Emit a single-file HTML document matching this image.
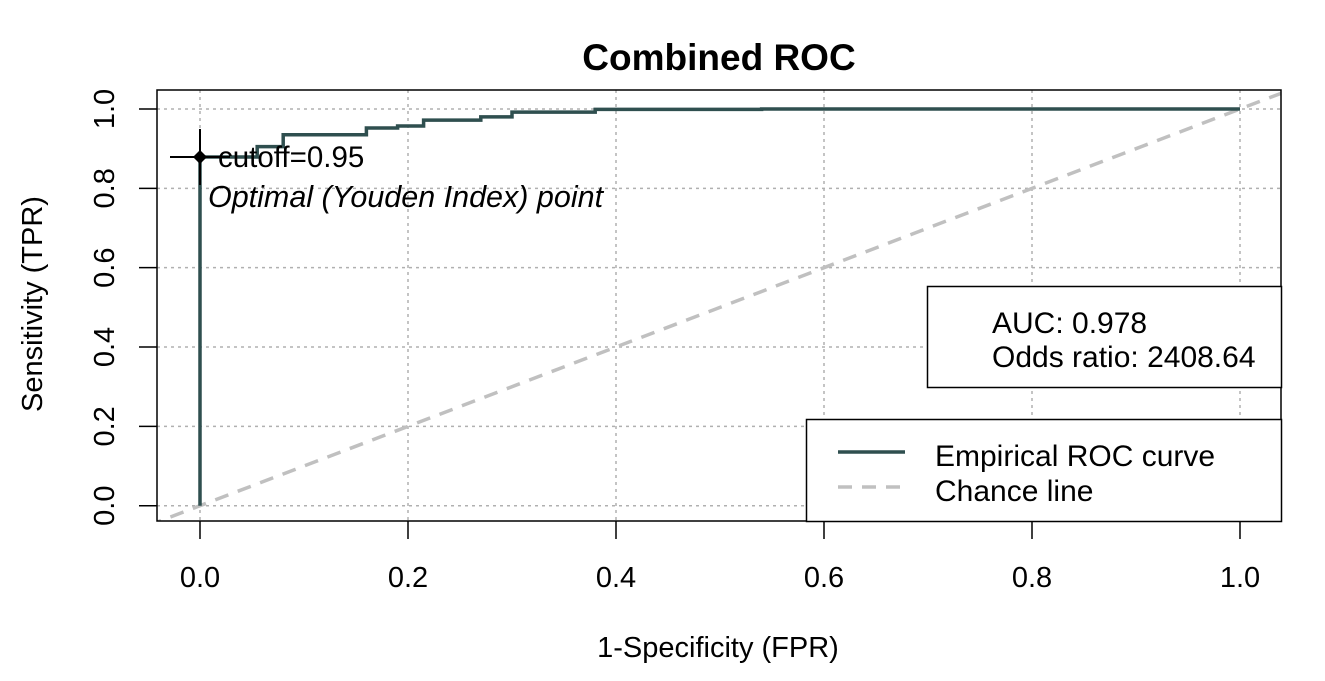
<!DOCTYPE html>
<html><head><meta charset="utf-8"><style>
html,body{margin:0;padding:0;background:#fff;}
svg{display:block;font-family:"Liberation Sans",Arial,sans-serif;}
</style></head><body>
<svg id="c" width="1325" height="681" xmlns="http://www.w3.org/2000/svg"></svg>
<script>
const xTicks=[0,0.2,0.4,0.6,0.8,1.0];
const yTicks=[0,0.2,0.4,0.6,0.8,1.0];
const tickLabels=["0.0","0.2","0.4","0.6","0.8","1.0"];
const rocFPR=[0,0,0.055,0.055,0.08,0.08,0.16,0.16,0.19,0.19,0.215,0.215,0.27,0.27,0.30,0.30,0.38,0.38,0.54,0.54,1.0];
const rocTPR=[0,0.879,0.879,0.905,0.905,0.935,0.935,0.952,0.952,0.957,0.957,0.972,0.972,0.980,0.980,0.992,0.992,0.999,0.999,1.0,1.0];
const optFPR=0, optTPR=0.879;
const NS="http://www.w3.org/2000/svg";
const svg=document.getElementById('c');
const L=157,R=1281,T=90,B=521;
function sx(v){return 200+v*1040;}
function sy(v){return 505.7-v*396.7;}
function mk(tag,attrs,parent){const e=document.createElementNS(NS,tag);for(const k in attrs)e.setAttribute(k,attrs[k]);(parent||svg).appendChild(e);return e;}
const defs=mk('defs',{});const cp=mk('clipPath',{id:'pc'},defs);mk('rect',{x:L,y:T,width:R-L,height:B-T},cp);
xTicks.forEach(v=>{const g=mk('line',{x1:sx(v),x2:sx(v),y1:T,y2:B,stroke:'#b0b0b0','stroke-width':1.5,'stroke-dasharray':'3,4'});

});
yTicks.forEach(v=>{const g=mk('line',{x1:L,x2:R,y1:sy(v),y2:sy(v),stroke:'#b0b0b0','stroke-width':1.5,'stroke-dasharray':'3,4'});

});
const ch=mk('line',{x1:sx(-0.05),y1:sy(-0.05),x2:sx(1.05),y2:sy(1.05),stroke:'#c0c0c0','stroke-width':3.5,'stroke-dasharray':'14,10','clip-path':'url(#pc)'});


let d='';rocFPR.forEach((f,i)=>{d+=(i?'L':'M')+sx(f)+','+sy(rocTPR[i]);});
const roc=mk('path',{d:d,fill:'none',stroke:'#2f4f4f','stroke-width':3.5,'clip-path':'url(#pc)'});


const ox=sx(optFPR),oy=sy(optTPR);
mk('line',{x1:ox-30,x2:ox+30,y1:oy,y2:oy,stroke:'#000','stroke-width':2});
mk('line',{x1:ox,x2:ox,y1:oy-28,y2:oy+28,stroke:'#000','stroke-width':2});
const op=mk('path',{d:`M${ox-7},${oy}L${ox},${oy-7}L${ox+7},${oy}L${ox},${oy+7}Z`,fill:'#000'});


const ct=mk('text',{x:ox+18,y:oy+10,'font-size':29.5,fill:'#000'});ct.textContent='cutoff=0.95';


const yt=mk('text',{x:ox+8,y:oy+50,'font-size':30.5,'font-style':'italic',fill:'#000'});yt.textContent='Optimal (Youden Index) point';


const pb=mk('rect',{x:L,y:T,width:R-L,height:B-T,fill:'none',stroke:'#000','stroke-width':1.5});


xTicks.forEach((v,i)=>{mk('line',{x1:sx(v),x2:sx(v),y1:B,y2:539,stroke:'#000','stroke-width':1.5});
const t=mk('text',{x:sx(v),y:587,'font-size':29,'text-anchor':'middle'});t.textContent=tickLabels[i];

});
yTicks.forEach((v,i)=>{mk('line',{x1:139,x2:L,y1:sy(v),y2:sy(v),stroke:'#000','stroke-width':1.5});
const t=mk('text',{x:0,y:0,'font-size':29,'text-anchor':'middle',transform:`translate(114,${sy(v)}) rotate(-90)`});t.textContent=tickLabels[i];

});
</script>
<svg style="position:absolute;left:0;top:0" width="1325" height="681" xmlns="http://www.w3.org/2000/svg">
<text x="719" y="70" font-size="37" font-weight="bold" text-anchor="middle">Combined ROC</text>
<text x="718" y="657" font-size="29" text-anchor="middle">1-Specificity (FPR)</text>
<text x="0" y="0" font-size="29" text-anchor="middle" transform="translate(42,304) rotate(-90)">Sensitivity (TPR)</text>
<g>
<rect x="927.5" y="286.5" width="354" height="101" fill="#fff" stroke="#000" stroke-width="1.5"/>
<text x="992" y="333" font-size="30">AUC: 0.978</text>
<text x="992" y="367" font-size="30">Odds ratio: 2408.64</text>
</g>
<g>
<rect x="806.5" y="419.5" width="475" height="102" fill="#fff" stroke="#000" stroke-width="1.5"/>
<line x1="838" x2="905" y1="452" y2="452" stroke="#2f4f4f" stroke-width="3.5"/>
<text x="935" y="466" font-size="30">Empirical ROC curve</text>
<line x1="838" x2="905" y1="487" y2="487" stroke="#c0c0c0" stroke-width="3.5" stroke-dasharray="14,10"/>
<text x="935" y="501" font-size="30">Chance line</text>
</g>
</svg>
</body></html>
